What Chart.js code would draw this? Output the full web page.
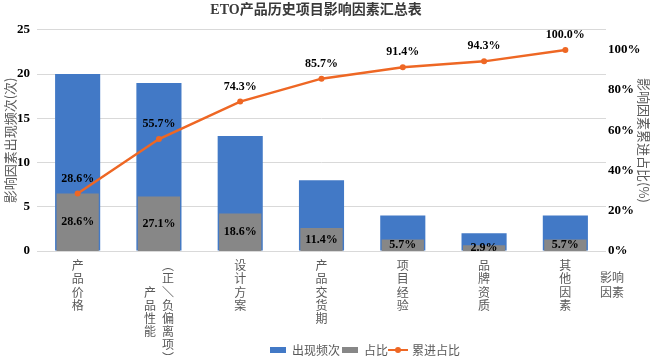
<!DOCTYPE html>
<html>
<head>
<meta charset="utf-8">
<script src="https://cdn.jsdelivr.net/npm/chart.js@4/dist/chart.umd.min.js"></script>
<style>
  body { margin: 0; background: #fff; }
</style>
</head>
<body>
<canvas id="pareto" width="652" height="357"></canvas>
<script>
// 数据
const categories = ['产品价格', '产品性能（正/负偏离项）', '设计方案', '产品交货期', '项目经验', '品牌资质', '其他因素'];
const counts = [20, 19, 13, 8, 4, 2, 4];                       // 出现频次
const share = [28.6, 27.1, 18.6, 11.4, 5.7, 2.9, 5.7];         // 占比 (%)
const cumulative = [28.6, 55.7, 74.3, 85.7, 91.4, 94.3, 100.0]; // 累进占比 (%)
const countTicks = [0, 5, 10, 15, 20, 25];

const BLUE = '#4279C6';
const GRAY = '#878787';
const ORANGE = '#EE6724';
const TEXT_GRAY = '#595959';
const CJK = '"Noto Sans CJK SC", sans-serif';
const SERIF = '"Liberation Serif", "Noto Sans CJK SC", serif';

// 竖排标签: 每个字一行, 括号部分放在第二列
function verticalLines(name) {
  const open = name.indexOf('（');
  if (open < 0) return name.split('');
  const main = name.slice(0, open).split('');
  const side = name.slice(open).replace('（', '︵').replace('）', '︶').replace('/', '＼').split('');
  const start = Math.floor((side.length - main.length) / 2);
  return side.map((c, k) => (main[k - start] || '\u3000') + '\u2002' + c);
}

// 图例里折线的样式 (线 + 圆点)
const lineMark = document.createElement('canvas');
lineMark.width = 20;
lineMark.height = 8;
(function () {
  const c = lineMark.getContext('2d');
  c.strokeStyle = ORANGE;
  c.lineWidth = 2;
  c.beginPath();
  c.moveTo(0, 4);
  c.lineTo(20, 4);
  c.stroke();
  c.fillStyle = ORANGE;
  c.beginPath();
  c.arc(10, 4, 3, 0, Math.PI * 2);
  c.fill();
})();

// 数据标签 + 横轴标题
const valueLabels = {
  id: 'valueLabels',
  afterLayout(chart) {
    // 横轴标签一直画到底部, 不被裁掉
    const x = chart.scales.x;
    x.bottom = chart.height;
    x.height = chart.height - x.top;
    // 图例和标题位置微调
    chart.legend.left += 39;
    chart.legend.right += 39;
    chart.legend.top += 9;
    chart.legend.bottom += 9;
    chart.titleBlock.left -= 10;
    chart.titleBlock.right -= 10;
  },
  afterDatasetsDraw(chart) {
    const ctx = chart.ctx;
    ctx.save();
    ctx.font = 'bold 12px ' + SERIF;
    ctx.fillStyle = '#000';
    ctx.textAlign = 'center';
    ctx.textBaseline = 'middle';
    chart.getDatasetMeta(1).data.forEach((bar, i) => {
      const p = bar.getProps(['x', 'y', 'base'], true);
      ctx.fillText(share[i].toFixed(1) + '%', p.x, (p.y + p.base) / 2);
    });
    chart.getDatasetMeta(2).data.forEach((pt, i) => {
      ctx.fillText(cumulative[i].toFixed(1) + '%', pt.x, pt.y - 15);
    });
    // 横轴标题 "影响因素"
    const area = chart.chartArea;
    ctx.font = '12px ' + CJK;
    ctx.fillStyle = TEXT_GRAY;
    ctx.fillText('影响', area.right + 6, area.bottom + 26);
    ctx.fillText('因素', area.right + 6, area.bottom + 41);
    ctx.restore();
  }
};

const ctx = document.getElementById('pareto').getContext('2d');
const chart = new Chart(ctx, {
  type: 'bar',
  data: {
    labels: categories,
    datasets: [
      {
        label: '出现频次',
        data: counts,
        backgroundColor: BLUE,
        yAxisID: 'y',
        grouped: false,
        categoryPercentage: 1,
        barPercentage: 0.555,
        order: 3
      },
      {
        label: '占比',
        data: share,
        backgroundColor: GRAY,
        yAxisID: 'y1',
        grouped: false,
        categoryPercentage: 1,
        barPercentage: 0.52,
        order: 2
      },
      {
        type: 'line',
        label: '累进占比',
        data: cumulative,
        borderColor: ORANGE,
        backgroundColor: ORANGE,
        borderWidth: 2.5,
        pointRadius: 3,
        pointBorderWidth: 0,
        pointBackgroundColor: ORANGE,
        tension: 0,
        yAxisID: 'y1',
        order: 1
      }
    ]
  },
  options: {
    responsive: false,
    animation: false,
    devicePixelRatio: 1,
    layout: { padding: 0 },
    plugins: {
      tooltip: { enabled: false },
      title: {
        display: true,
        text: 'ETO产品历史项目影响因素汇总表',
        color: '#3a3a3a',
        font: { family: SERIF, size: 14, weight: 'bold' },
        padding: { top: 2, bottom: 11 }
      },
      legend: {
        position: 'bottom',
        labels: {
          usePointStyle: true,
          pointStyleWidth: 16,
          boxHeight: 6,
          padding: 2,
          color: TEXT_GRAY,
          font: { family: CJK, size: 12 },
          sort: (a, b) => a.datasetIndex - b.datasetIndex,
          generateLabels: function (c) {
            const items = Chart.defaults.plugins.legend.labels.generateLabels(c);
            items.forEach(item => {
              item.lineWidth = 0;
              item.pointStyle = item.datasetIndex === 2 ? lineMark : 'rect';
            });
            return items;
          }
        }
      }
    },
    scales: {
      x: {
        grid: { display: false },
        border: { display: false },
        ticks: {
          autoSkip: false,
          maxRotation: 0,
          minRotation: 0,
          padding: 0,
          color: TEXT_GRAY,
          font: { family: CJK, size: 12, lineHeight: 1.1 },
          callback: (v, i) => verticalLines(categories[i])
        },
        afterFit: s => { s.height = 82; }
      },
      y: {
        position: 'left',
        min: countTicks[0],
        max: countTicks[countTicks.length - 1],
        ticks: {
          stepSize: 5,
          padding: 7,
          color: '#000',
          font: { family: SERIF, size: 13, weight: 'bold' }
        },
        grid: { color: '#d9d9d9', drawTicks: false },
        border: { display: false },
        title: {
          display: true,
          text: '影响因素出现频次(次)',
          color: TEXT_GRAY,
          font: { family: CJK, size: 13 },
          padding: { top: 2, bottom: 0 }
        },
        afterFit: s => { s.width = 37; }
      },
      y1: {
        position: 'right',
        min: 0,
        max: 110,
        ticks: {
          stepSize: 20,
          includeBounds: false,
          padding: 2,
          color: '#000',
          font: { family: SERIF, size: 13, weight: 'bold' },
          callback: v => v + '%'
        },
        grid: { display: false, drawTicks: false },
        border: { display: false },
        title: {
          display: true,
          text: '影响因素累进占比(%)',
          color: TEXT_GRAY,
          font: { family: CJK, size: 13 },
          padding: { top: 0, bottom: 0 }
        },
        afterFit: s => { s.width = 46; }
      }
    }
  },
  plugins: [valueLabels]
});
</script>
</body>
</html>
